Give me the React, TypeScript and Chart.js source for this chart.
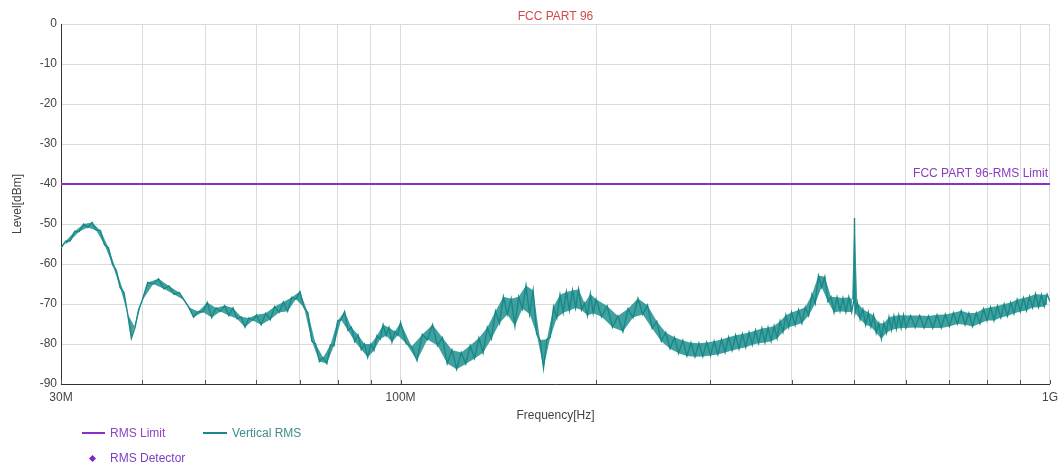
import React, { useEffect, useRef } from "react";
import { Chart, registerables } from "chart.js";

Chart.register(...registerables);

const FONT = '"Liberation Sans", Arial, sans-serif';

const TITLE = "FCC PART 96";
const LIMIT_LABEL = "FCC PART 96-RMS Limit";
const X_TITLE = "Frequency[Hz]";
const Y_TITLE = "Level[dBm]";
const LEGEND_LIMIT = "RMS Limit";
const LEGEND_TRACE = "Vertical RMS";
const LEGEND_DETECTOR = "RMS Detector";

const X_MIN_MHZ = 30;
const X_MAX_MHZ = 1000;
const Y_MIN = -90;
const Y_MAX = 0;
const Y_STEP = 10;
const X_TICKS_MHZ = [30, 40, 50, 60, 70, 80, 90, 100, 200, 300, 400, 500, 600, 700, 800, 900, 1000];
const X_TICK_LABELS: Record<number, string> = { 30: "30M", 100: "100M", 1000: "1G" };

const LIMIT_FREQ_MHZ = [30, 1000];
const LIMIT_DBM = [-40, -40];

// Vertical RMS trace, 30–60 MHz
const FREQ_30_60 = [
  30, 30.5, 31, 31.5, 32, 32.5, 33, 33.5, 34, 34.5, 35, 35.5, 36, 36.5, 37, 37.5, 38, 38.5, 39, 39.5,
  40, 40.8, 41.6, 42.4, 43.2, 44, 44.8, 45.6, 46.4, 47.2, 48, 48.8, 49.6, 50.4, 51.2, 52, 52.8, 53.6, 54.4, 55.2, 56, 56.8, 57.6, 58.4, 59.2,
];
const LEVEL_30_60 = [
  -56.0, -54.3, -54.2, -51.8, -51.9, -50.0, -50.9, -49.6, -51.6, -51.6, -55.2, -55.9, -60.1, -61.6, -65.9, -67.1, -72.5, -78.6, -75.9, -71.4,
  -69.2, -64.6, -65.0, -63.7, -66.2, -65.5, -67.6, -67.1, -69.0, -70.8, -73.3, -71.9, -72.0, -69.6, -73.4, -71.0, -71.9, -70.4, -72.9, -71.0, -73.7, -73.2, -75.8, -73.5, -74.1,
];

// 60–100 MHz
const FREQ_60_100 = [
  60, 61, 62, 63, 64, 65, 66, 67, 68, 69, 70, 71, 72, 73, 74, 75, 76, 77, 78, 79,
  80, 81, 82, 83, 84, 85, 86, 87, 88, 89, 90, 91, 92, 93, 94, 95, 96, 97, 98, 99,
];
const LEVEL_60_100 = [
  -72.7, -75.2, -72.3, -73.9, -70.6, -72.1, -69.5, -71.8, -68.3, -68.8, -66.9, -70.9, -72.2, -79.3, -80.0, -84.4, -83.4, -84.9, -80.2, -80.4,
  -74.2, -74.0, -71.9, -76.6, -75.8, -79.4, -77.7, -81.4, -80.0, -83.3, -80.0, -81.6, -77.9, -78.8, -75.2, -77.9, -75.9, -79.5, -76.9, -77.8,
];

// 100–200 MHz
const FREQ_100_200 = [
  100, 102, 104, 106, 108, 110, 112, 114, 116, 118, 120, 122, 124, 126, 128, 130, 132, 134, 136, 138,
  140, 142, 144, 146, 148, 150, 152, 154, 156, 158, 160, 162, 164, 166, 168, 170, 172, 174, 176, 178,
  180, 182, 184, 186, 188, 190, 192, 194, 196, 198,
];
const LEVEL_100_200 = [
  -74.6, -79.9, -80.6, -84.1, -77.6, -78.9, -75.2, -80.4, -78.4, -84.9, -81.5, -86.3, -82.1, -85.0, -80.4, -83.6, -78.5, -82.2, -75.9, -78.7,
  -71.8, -74.8, -68.2, -72.6, -68.7, -75.5, -68.2, -71.2, -65.4, -72.5, -66.6, -77.5, -79.0, -86.0, -78.8, -78.4, -70.7, -73.5, -67.7, -72.2,
  -67.0, -71.6, -66.6, -71.0, -66.3, -71.5, -69.8, -72.9, -67.5, -72.3,
];

// 200–400 MHz
const FREQ_200_400 = [
  200, 204, 208, 212, 216, 220, 224, 228, 232, 236, 240, 244, 248, 252, 256, 260, 264, 268, 272, 276,
  280, 284, 288, 292, 296, 300, 304, 308, 312, 316, 320, 324, 328, 332, 336, 340, 344, 348, 352, 356,
  360, 364, 368, 372, 376, 380, 384, 388, 392, 396,
];
const LEVEL_200_400 = [
  -68.8, -73.2, -70.5, -75.8, -73.0, -76.9, -71.2, -73.4, -68.6, -72.6, -70.3, -76.1, -74.3, -79.3, -77.1, -81.2, -78.3, -82.3, -79.1, -83.0,
  -79.7, -83.2, -79.8, -83.1, -79.6, -82.9, -79.3, -82.6, -78.9, -82.1, -78.3, -81.6, -77.8, -81.2, -77.5, -80.8, -77.1, -80.2, -76.6, -79.8,
  -76.1, -79.6, -75.9, -79.3, -75.5, -78.6, -74.3, -77.0, -72.8, -75.8,
];

// 400–600 MHz
const FREQ_400_600 = [
  400, 405, 410, 415, 420, 425, 430, 435, 440, 445, 450, 455, 460, 465, 470, 475, 480, 485, 490, 495,
  499, 500, 501,
  505, 510, 515, 520, 525, 530, 535, 540, 545, 550, 555, 560, 565, 570, 575, 580, 585, 590, 595,
];
const LEVEL_400_600 = [
  -72.1, -75.3, -71.5, -74.8, -70.8, -72.9, -67.6, -69.9, -62.9, -65.8, -63.2, -69.4, -68.2, -72.1, -68.3, -71.8, -68.5, -72.0, -68.3, -72.0,
  -69.0, -48.5, -72.2,
  -69.6, -73.8, -71.3, -75.2, -72.1, -75.7, -72.8, -77.2, -74.8, -78.7, -74.8, -77.2, -73.3, -76.5, -73.0, -76.2, -72.8, -76.0, -72.8,
];

// 600–1000 MHz
const FREQ_600_1000 = [
  600, 610, 620, 630, 640, 650, 660, 670, 680, 690, 700, 710, 720, 730, 740, 750, 760, 770, 780, 790,
  800, 810, 820, 830, 840, 850, 860, 870, 880, 890, 900, 910, 920, 930, 940, 950, 960, 970, 980, 990, 1000,
];
const LEVEL_600_1000 = [
  -76.0, -72.9, -75.9, -72.9, -76.0, -73.0, -76.0, -72.7, -76.0, -72.6, -75.6, -72.2, -75.0, -71.7, -75.2, -72.3, -75.6, -72.2, -74.9, -71.2,
  -74.1, -70.8, -74.1, -70.5, -73.4, -70.0, -73.0, -69.6, -72.4, -68.9, -71.9, -68.5, -71.6, -68.1, -70.9, -67.5, -70.8, -67.7, -70.6, -67.6, -69.4,
];

const PURPLE = "#8c2fc6";
const TEAL = "#1a8886";
const TEAL_BAND = "rgba(30, 145, 143, 0.85)";
const TITLE_RED = "#d24b4b";
const LIMIT_TEXT = "#8a3cc0";
const AXIS_TEXT = "#444444";
const GRID = "#dadada";
const AXIS_LINE = "#333333";

const overlayPlugin = {
  id: "overlay",
  afterDatasetsDraw(chart: any) {
    const { ctx, chartArea, scales } = chart;
    const xs = scales.x;
    const ys = scales.y;
    ctx.save();
    ctx.strokeStyle = "#555555";
    ctx.lineWidth = 1;
    X_TICKS_MHZ.forEach((v) => {
      const px = Math.round(xs.getPixelForValue(v)) + 0.5;
      ctx.beginPath();
      ctx.moveTo(px, chartArea.bottom);
      ctx.lineTo(px, chartArea.bottom - 4);
      ctx.stroke();
    });
    ctx.fillStyle = LIMIT_TEXT;
    ctx.font = `12px ${FONT}`;
    ctx.textAlign = "right";
    ctx.textBaseline = "bottom";
    ctx.fillText(LIMIT_LABEL, chartArea.right - 2, ys.getPixelForValue(LIMIT_DBM[0]) - 4);
    ctx.restore();
  },
};

export default function App() {
  const ref = useRef<HTMLCanvasElement>(null);

  useEffect(() => {
    if (!ref.current) return;
    Chart.defaults.font.family = FONT;
    const freq = [...FREQ_30_60, ...FREQ_60_100, ...FREQ_100_200, ...FREQ_200_400, ...FREQ_400_600, ...FREQ_600_1000];
    const lvl = [...LEVEL_30_60, ...LEVEL_60_100, ...LEVEL_100_200, ...LEVEL_200_400, ...LEVEL_400_600, ...LEVEL_600_1000];
    const trace = freq.map((f, i) => ({ x: f, y: lvl[i] }));
    // the same readings split into alternate samples, used to shade the noise band between them
    const bandA = trace.filter((_, i) => i % 2 === 0);
    const bandB = trace.filter((_, i) => i % 2 === 1);
    const limit = LIMIT_FREQ_MHZ.map((f, i) => ({ x: f, y: LIMIT_DBM[i] }));

    const chart = new Chart(ref.current, {
      type: "line",
      data: {
        datasets: [
          { label: LEGEND_LIMIT, data: limit, borderColor: PURPLE, borderWidth: 2, pointRadius: 0, order: 0 },
          { label: LEGEND_TRACE, data: trace, borderColor: TEAL, borderWidth: 1.4, pointRadius: 0, order: 1 },
          {
            label: "band-a",
            data: bandA,
            borderWidth: 0,
            borderColor: "rgba(0,0,0,0)",
            backgroundColor: TEAL_BAND,
            pointRadius: 0,
            fill: "+1",
            order: 2,
          },
          {
            label: "band-b",
            data: bandB,
            borderWidth: 0,
            borderColor: "rgba(0,0,0,0)",
            pointRadius: 0,
            fill: false,
            order: 3,
          },
        ],
      },
      options: {
        animation: false,
        responsive: false,
        maintainAspectRatio: false,
        layout: { padding: { left: 0, right: 11, top: 0, bottom: 42 } },
        plugins: {
          legend: { display: false },
          tooltip: { enabled: false },
          title: {
            display: true,
            text: TITLE,
            color: TITLE_RED,
            fullSize: false,
            font: { size: 12, weight: "normal", family: FONT, lineHeight: 1.2 },
            padding: { top: 9, bottom: 0.6 },
          },
        },
        scales: {
          x: {
            type: "logarithmic",
            min: X_MIN_MHZ,
            max: X_MAX_MHZ,
            afterBuildTicks: (s: any) => {
              s.ticks = X_TICKS_MHZ.map((v) => ({ value: v }));
            },
            afterFit: (s: any) => {
              s.height = 40;
            },
            ticks: {
              autoSkip: false,
              maxRotation: 0,
              padding: 6,
              color: AXIS_TEXT,
              font: { size: 12, family: FONT },
              callback: (v: any) => X_TICK_LABELS[Number(v)] ?? "",
            },
            grid: { color: GRID, drawTicks: false },
            border: { display: true, color: AXIS_LINE, width: 1 },
            title: {
              display: true,
              text: X_TITLE,
              color: AXIS_TEXT,
              font: { size: 12, family: FONT },
              padding: { top: 0, bottom: 1 },
            },
          },
          y: {
            type: "linear",
            min: Y_MIN,
            max: Y_MAX,
            afterFit: (s: any) => {
              s.width = 61;
            },
            ticks: {
              stepSize: Y_STEP,
              padding: 4,
              color: AXIS_TEXT,
              font: { size: 12, family: FONT },
            },
            grid: { color: GRID, drawTicks: false },
            border: { display: true, color: AXIS_LINE, width: 1 },
            title: {
              display: true,
              text: Y_TITLE,
              color: AXIS_TEXT,
              font: { size: 12, family: FONT },
              padding: { top: 10, bottom: 0 },
            },
          },
        },
      },
      plugins: [overlayPlugin],
    } as any);
    return () => chart.destroy();
  }, []);

  const textStyle: React.CSSProperties = {
    position: "absolute",
    fontSize: 12,
    lineHeight: "14px",
    fontFamily: FONT,
    whiteSpace: "nowrap",
  };

  return (
    <div style={{ position: "absolute", left: 0, top: 0, width: 1064, height: 466, background: "#fff" }}>
      <canvas ref={ref} width={1064} height={466} style={{ display: "block", width: 1064, height: 466 }} />
      <div style={{ position: "absolute", left: 82, top: 432, width: 23, height: 2, background: PURPLE }} />
      <div style={{ ...textStyle, left: 110, top: 426, color: "#8e44c4" }}>{LEGEND_LIMIT}</div>
      <div style={{ position: "absolute", left: 203, top: 432, width: 24, height: 2, background: TEAL }} />
      <div style={{ ...textStyle, left: 232, top: 426, color: "#3d8d8b" }}>{LEGEND_TRACE}</div>
      <div
        style={{
          position: "absolute",
          left: 89.5,
          top: 455.5,
          width: 5,
          height: 5,
          background: "#7a2ad0",
          transform: "rotate(45deg)",
        }}
      />
      <div style={{ ...textStyle, left: 110, top: 451, color: "#7d3fc7" }}>{LEGEND_DETECTOR}</div>
    </div>
  );
}
